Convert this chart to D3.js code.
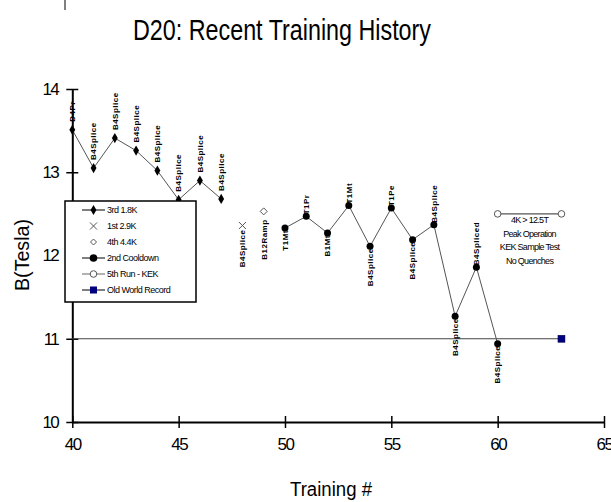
<!DOCTYPE html>
<html>
<head>
<meta charset="utf-8">
<script src="https://cdn.jsdelivr.net/npm/d3@7"></script>
<style>
  body { margin: 0; background: #fff; }
  svg { display: block; }
  text { font-family: "Liberation Sans", Arial, sans-serif; fill: #000; }
</style>
</head>
<body>
<svg id="chart" width="611" height="502"></svg>
<script>
// ---- data ----
const xTicks = [40, 45, 50, 55, 60, 65];
const yTicks = [10, 11, 12, 13, 14];

const run3X = [40, 41, 42, 43, 44, 45, 46, 47];
const run3Y = [13.51, 13.05, 13.41, 13.26, 13.02, 12.67, 12.9, 12.68];
const run3Labels = ["D4Pr", "B4Splice", "B4Splice", "B4Splice", "B4Splice", "B4Splice", "B4Splice", "B4Splice"];
const run3Pos = ["above", "above", "above", "above", "above", "above", "above", "above"];

const run1X = [48];
const run1Y = [12.36];
const run1Labels = ["B4Splice"];
const run1Pos = ["below"];

const run4X = [49];
const run4Y = [12.53];
const run4Labels = ["B12Ramp"];
const run4Pos = ["below"];

const coolX = [50, 51, 52, 53, 54, 55, 56, 57, 58, 59, 60];
const coolY = [12.33, 12.47, 12.27, 12.6, 12.11, 12.57, 12.19, 12.37, 11.27, 11.86, 10.94];
const coolLabels = ["T1Mt", "T1Pr", "B1Mt", "T1Mt", "B4Splice", "T1Pe", "B4Splice", "B4Splice", "B4Splice", "B4Spliced", "B4Splice"];
const coolPos = ["below", "above", "below", "above", "below", "above", "below", "above", "below", "above", "below"];

const kekX = [60, 63];
const kekY = [12.5, 12.5];
const kekNote = ["4K > 12.5T", "Peak Operation", "KEK Sample Test", "No Quenches"];

const recordX = [40, 63];
const recordY = [11, 11];

const legendNames = ["3rd 1.8K", "1st 2.9K", "4th 4.4K", "2nd Cooldown", "5th Run - KEK", "Old World Record"];

// ---- layout ----
const svg = d3.select("#chart");
const x = d3.scaleLinear().domain([40, 65]).range([72.3, 604]);
const y = d3.scaleLinear().domain([10, 14]).range([422, 89]);

// small stray mark at top-left
svg.append("line").attr("x1", 65).attr("x2", 65).attr("y1", 0).attr("y2", 10)
  .attr("stroke", "#000").attr("stroke-width", 1);

// title
svg.append("text").attr("x", 282).attr("y", 40).attr("text-anchor", "middle")
  .attr("font-size", 29).attr("textLength", 298).attr("lengthAdjust", "spacingAndGlyphs")
  .text("D20: Recent Training History");

// axes
const xAxis = d3.axisBottom(x).tickValues(xTicks).tickFormat(d3.format("d"))
  .tickSizeInner(6).tickSizeOuter(0).tickPadding(10);
const gx = svg.append("g").attr("transform", `translate(0,${y(10)})`).call(xAxis);
gx.select(".domain").attr("stroke-width", 2);
gx.selectAll(".tick line").attr("y1", -6).attr("stroke-width", 1.5);
gx.selectAll(".tick text").attr("font-size", 17).attr("letter-spacing", -1.5)
  .attr("font-family", "Liberation Sans, Arial, sans-serif");

const yAxis = d3.axisLeft(y).tickValues(yTicks).tickFormat(d3.format("d"))
  .tickSizeInner(6).tickSizeOuter(0).tickPadding(8);
const gy = svg.append("g").attr("transform", `translate(${x(40)},0)`).call(yAxis);
gy.select(".domain").attr("stroke-width", 2);
gy.selectAll(".tick line").attr("x2", 6).attr("x1", -6).attr("stroke-width", 1.5);
gy.selectAll(".tick text").attr("font-size", 17).attr("letter-spacing", -1.5)
  .attr("font-family", "Liberation Sans, Arial, sans-serif");

// axis titles
svg.append("text").attr("x", 331).attr("y", 496).attr("text-anchor", "middle")
  .attr("font-size", 20).attr("textLength", 82).attr("lengthAdjust", "spacingAndGlyphs")
  .text("Training #");
svg.append("text").attr("transform", "translate(29,255) rotate(-90)").attr("text-anchor", "middle")
  .attr("font-size", 20).attr("textLength", 72).attr("lengthAdjust", "spacingAndGlyphs")
  .text("B(Tesla)");

const line = d3.line().x(d => x(d[0])).y(d => y(d[1]));
const zip = (a, b) => a.map((v, i) => [v, b[i]]);

// old world record
svg.append("path").datum(zip(recordX, recordY)).attr("d", line)
  .attr("fill", "none").attr("stroke", "#444").attr("stroke-width", 1);
svg.append("rect").attr("x", x(recordX[1]) - 3.5).attr("y", y(recordY[1]) - 3.5).attr("width", 7).attr("height", 7)
  .attr("fill", "#000080").attr("stroke", "#000040").attr("stroke-width", 0.5);

// 3rd 1.8K
svg.append("path").datum(zip(run3X, run3Y)).attr("d", line)
  .attr("fill", "none").attr("stroke", "#555").attr("stroke-width", 1);
const diamond = d3.symbol().type(d3.symbolDiamond);
svg.selectAll(".r3").data(zip(run3X, run3Y)).join("path")
  .attr("transform", d => `translate(${x(d[0])},${y(d[1])})`)
  .attr("d", diamond.size(30)).attr("fill", "#000");

// 1st 2.9K
svg.selectAll(".r1").data(zip(run1X, run1Y)).join("path")
  .attr("transform", d => `translate(${x(d[0])},${y(d[1])})`)
  .attr("d", "M-3.5,-3.5L3.5,3.5M-3.5,3.5L3.5,-3.5").attr("stroke", "#555").attr("stroke-width", 1).attr("fill", "none");

// 4th 4.4K
svg.selectAll(".r4").data(zip(run4X, run4Y)).join("path")
  .attr("transform", d => `translate(${x(d[0])},${y(d[1])})`)
  .attr("d", "M0,-3.5L3.5,0L0,3.5L-3.5,0Z").attr("stroke", "#555").attr("stroke-width", 1).attr("fill", "#fff");

// 2nd cooldown
svg.append("path").datum(zip(coolX, coolY)).attr("d", line)
  .attr("fill", "none").attr("stroke", "#555").attr("stroke-width", 1);
svg.selectAll(".c2").data(zip(coolX, coolY)).join("circle")
  .attr("cx", d => x(d[0])).attr("cy", d => y(d[1])).attr("r", 3.5).attr("fill", "#000");

// 5th run KEK
svg.append("path").datum(zip(kekX, kekY)).attr("d", line)
  .attr("fill", "none").attr("stroke", "#555").attr("stroke-width", 1.2);
svg.selectAll(".k5").data(zip(kekX, kekY)).join("circle")
  .attr("cx", d => x(d[0])).attr("cy", d => y(d[1])).attr("r", 3.3)
  .attr("fill", "#fff").attr("stroke", "#555").attr("stroke-width", 1);
const noteX = (x(kekX[0]) + x(kekX[1])) / 2;
svg.selectAll(".note").data(kekNote).join("text")
  .attr("x", noteX).attr("y", (d, i) => y(kekY[0]) + 9 + i * 13.8)
  .attr("text-anchor", "middle").attr("font-size", 9).attr("letter-spacing", -0.7)
  .text(d => d);

// data labels (rotated)
function labels(xs, ys, texts, pos, gap) {
  svg.append("g").selectAll("text").data(texts).join("text")
    .attr("transform", (d, i) => {
      const py = y(ys[i]) + (pos[i] === "above" ? -gap : gap);
      return `translate(${x(xs[i])},${py}) rotate(-90)`;
    })
    .attr("text-anchor", (d, i) => pos[i] === "above" ? "start" : "end")
    .attr("dy", "0.35em")
    .attr("font-size", 8).attr("font-weight", "bold").attr("letter-spacing", 0.5)
    .text(d => d);
}
labels(run3X, run3Y, run3Labels, run3Pos, 8);
labels(run1X, run1Y, run1Labels, run1Pos, 4);
labels(run4X, run4Y, run4Labels, run4Pos, 8);
labels(coolX, coolY, coolLabels, coolPos, 2);

// legend
const lg = svg.append("g");
lg.append("rect").attr("x", 65).attr("y", 201).attr("width", 131).attr("height", 101)
  .attr("fill", "#fff").attr("stroke", "#000").attr("stroke-width", 1.5);
const rowY = i => 210 + i * 16;
const lx1 = 82, lx2 = 105, mx = 93.5;
legendNames.forEach((name, i) => {
  const ry = rowY(i);
  if (i === 0 || i === 3 || i === 4 || i === 5) {
    lg.append("line").attr("x1", lx1).attr("x2", lx2).attr("y1", ry).attr("y2", ry)
      .attr("stroke", i === 4 ? "#666" : "#000").attr("stroke-width", 1);
  }
  if (i === 0) lg.append("path").attr("transform", `translate(${mx},${ry})`).attr("d", diamond.size(30)).attr("fill", "#000");
  if (i === 1) lg.append("path").attr("transform", `translate(${mx},${ry})`).attr("d", "M-3.5,-3.5L3.5,3.5M-3.5,3.5L3.5,-3.5").attr("stroke", "#555").attr("fill", "none");
  if (i === 2) lg.append("path").attr("transform", `translate(${mx},${ry})`).attr("d", "M0,-3L3,0L0,3L-3,0Z").attr("stroke", "#555").attr("fill", "#fff");
  if (i === 3) lg.append("circle").attr("cx", mx).attr("cy", ry).attr("r", 3.8).attr("fill", "#000");
  if (i === 4) lg.append("circle").attr("cx", mx).attr("cy", ry).attr("r", 3.3).attr("fill", "#fff").attr("stroke", "#555");
  if (i === 5) lg.append("rect").attr("x", mx - 3.5).attr("y", ry - 3.5).attr("width", 7).attr("height", 7).attr("fill", "#000080");
  lg.append("text").attr("x", 107).attr("y", ry).attr("dy", "0.35em")
    .attr("font-size", 9).attr("letter-spacing", -0.5).text(name);
});
</script>
</body>
</html>
